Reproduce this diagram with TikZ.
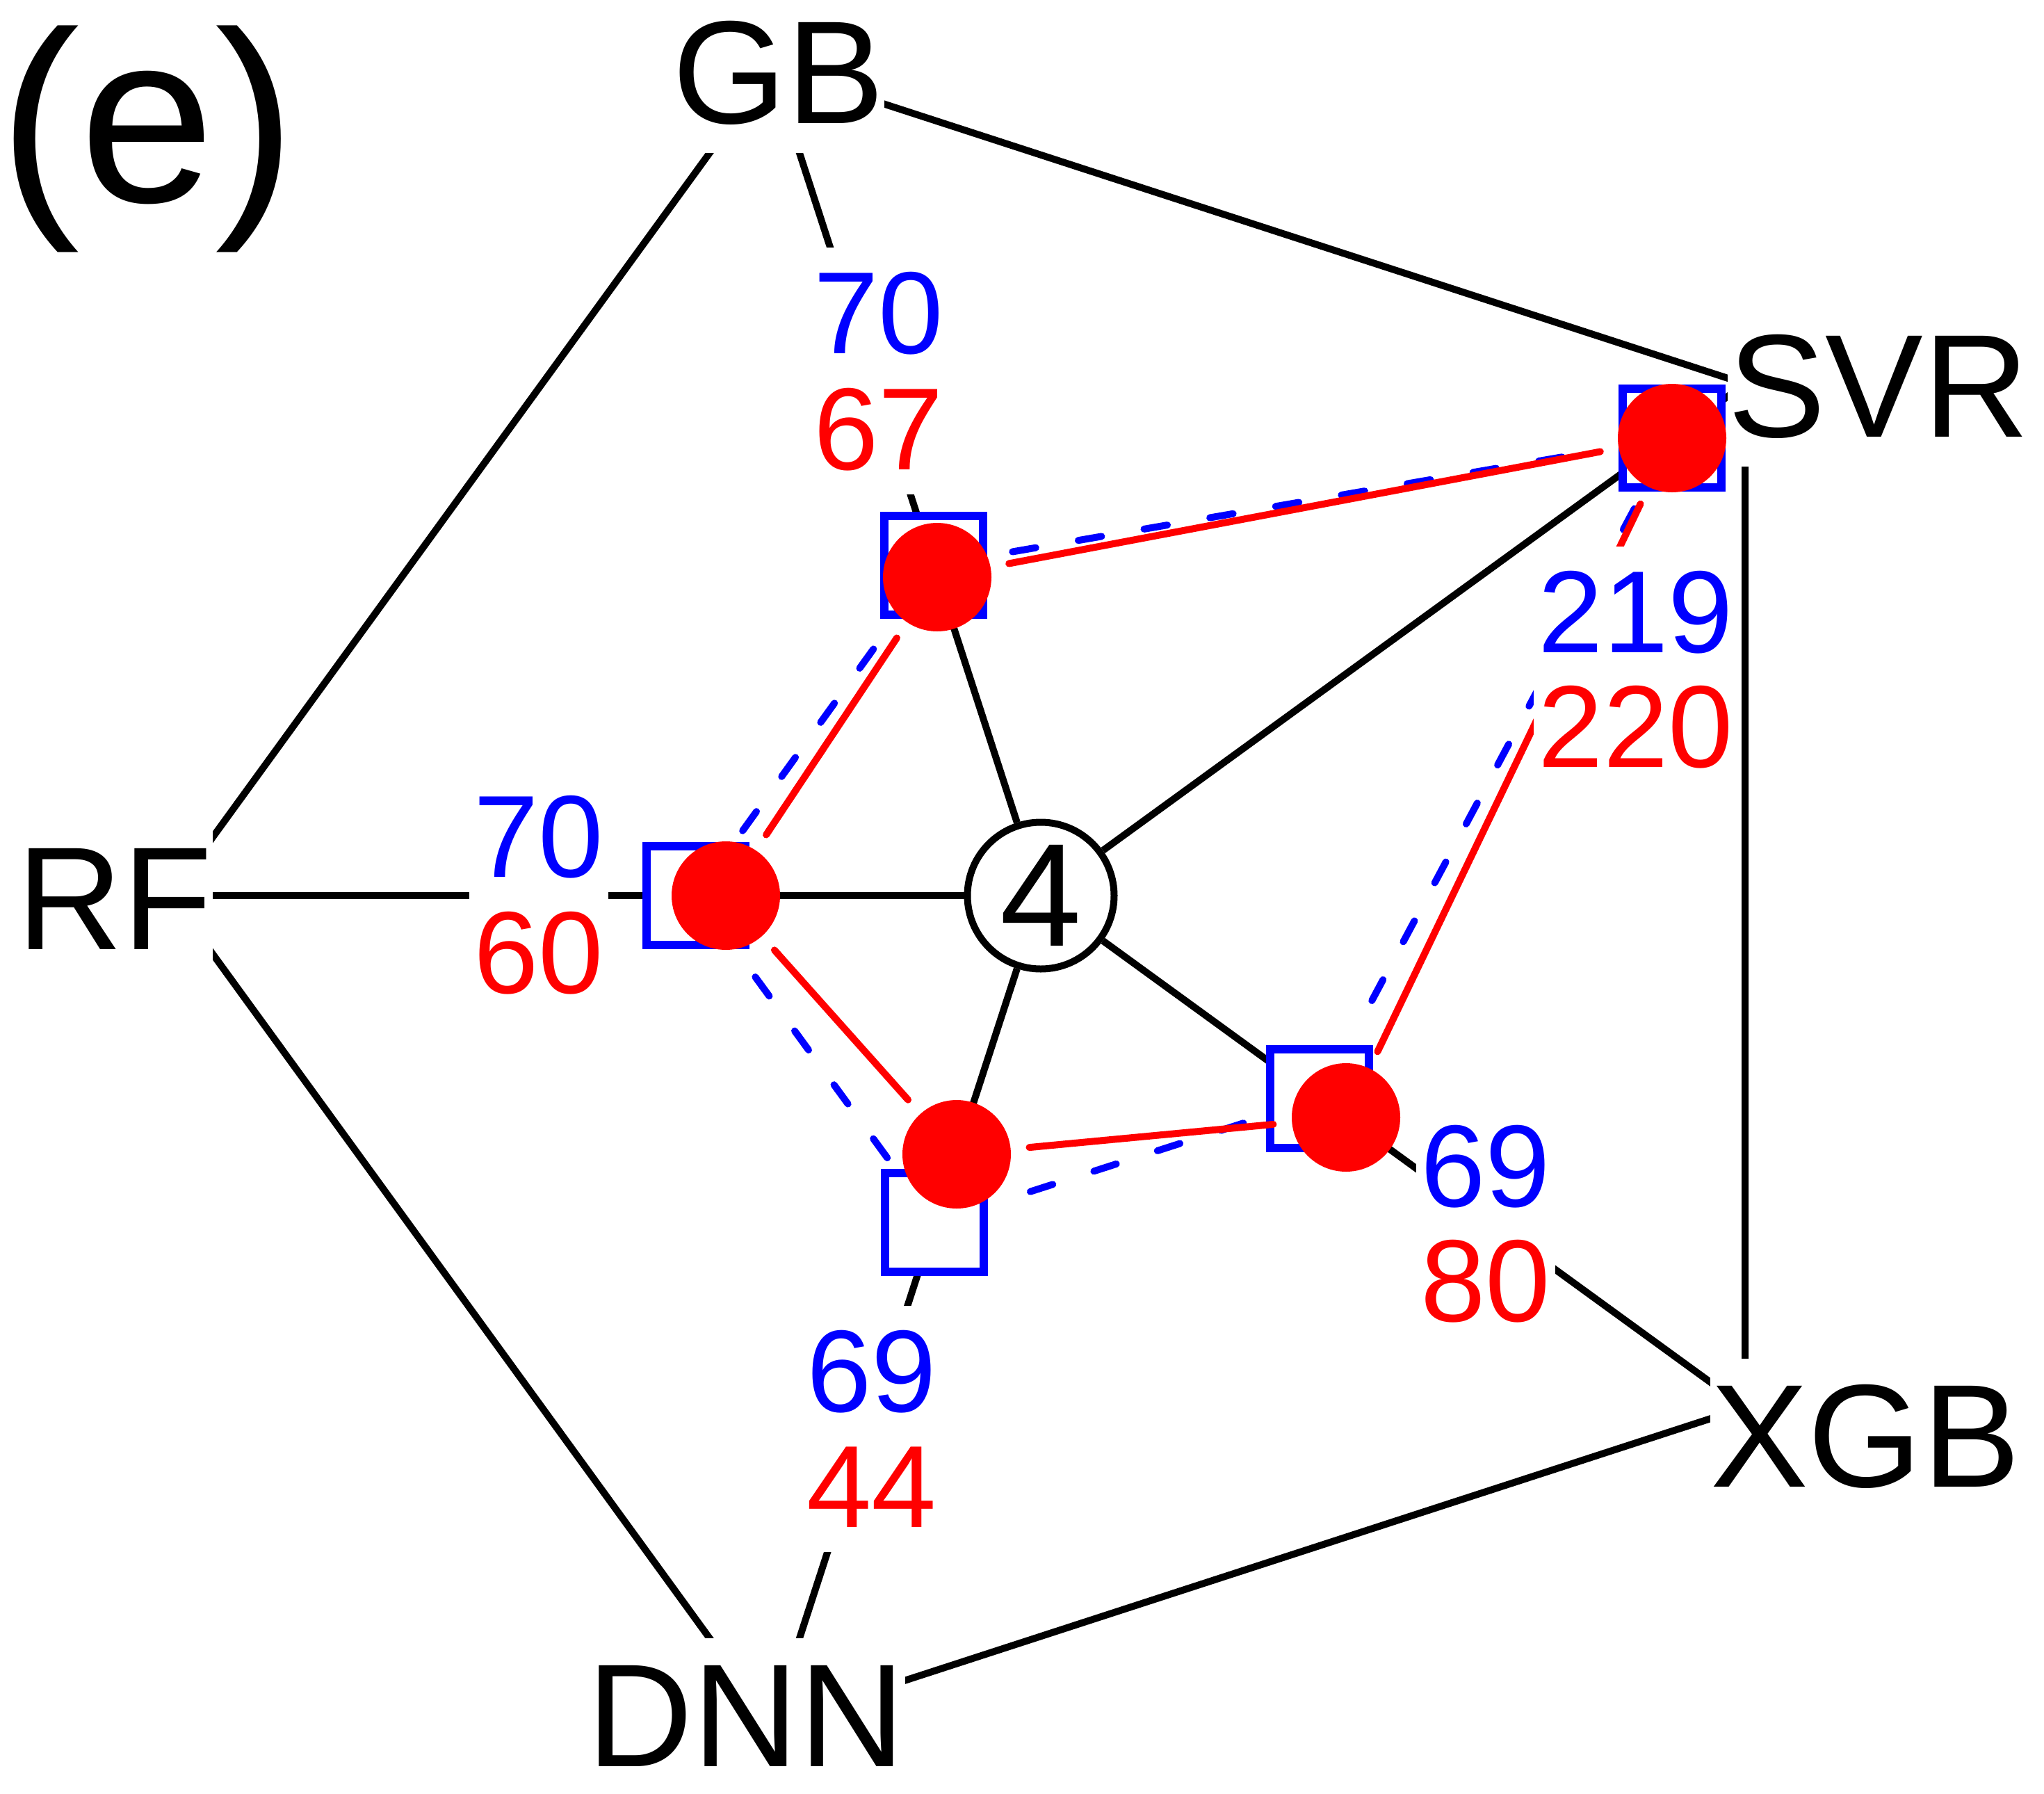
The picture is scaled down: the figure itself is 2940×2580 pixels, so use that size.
\documentclass[tikz,border=0pt]{standalone}
\usepackage{fontspec}
\setmainfont{Liberation Sans}
\pgfdeclarelayer{axes}
\pgfdeclarelayer{marks}
\pgfdeclarelayer{links}
\pgfsetlayers{axes,marks,links,main}
\begin{document}
\begin{tikzpicture}[x=1pt,y=-1pt,
  lab/.style={font=\fontsize{211}{211}\selectfont, fill=white, inner sep=0pt, text height=184pt, text depth=43pt},
  num/.style={font=\fontsize{168}{168}\selectfont, fill=white, inner ysep=0pt, inner xsep=7pt, text height=152pt, text depth=36pt, anchor=base},
  bnum/.style={num, text=blue},
  rnum/.style={num, text=red},
  axisline/.style={line width=10pt},
  bsq/.style={rectangle, draw=blue, fill=white, line width=12pt, minimum size=142pt, inner sep=0pt},
  rdot/.style={circle, fill=red, minimum size=156pt, inner sep=0pt},
  rlink/.style={red, line width=10pt, line cap=round, shorten <=105pt, shorten >=105pt},
  blink/.style={blue, line width=10pt, line cap=round, dash pattern=on 34pt off 62pt, shorten <=115pt, shorten >=115pt},
]
\useasboundingbox (0,0) rectangle (2940,2580);

% pentagon vertices
\coordinate (vRF)  at (245,1288);
\coordinate (vGB)  at (1110,97);
\coordinate (vSVR) at (2510,552);
\coordinate (vXGB) at (2510,2024);
\coordinate (vDNN) at (1110,2479);

% centre
\node[circle, draw, line width=10pt, fill=white, minimum size=211pt, inner sep=0pt] (ctr) at (1497,1288) {\fontsize{211}{211}\selectfont 4};

% outer labels
\node[lab, anchor=base] (GB) at (1120,177) {GB};
\node[lab, anchor=base west] (SVR) at (2485,628) {SVR};
\node[lab, anchor=base west] (XGB) at (2460,2138) {XGB};
\node[lab, anchor=base] (DNN) at (1073,2540) {DNN};
\node[lab, anchor=base east] (RF) at (306,1365) {RF};
\node[anchor=base west, font=\fontsize{350}{350}\selectfont, inner sep=0pt] (tag) at (-2,290) {(e)};

% number labels
\node[bnum] (nGBb) at (1264,508) {70};
\node[rnum] (nGBr) at (1264,675) {67};
\node[bnum] (nRFb) at (775,1261) {70};
\node[rnum] (nRFr) at (775,1428) {60};
\node[bnum] (nDNNb) at (1254,2030) {69};
\node[rnum] (nDNNr) at (1254,2196) {44};
\node[bnum] (nXGBb) at (2137,1735) {69};
\node[rnum] (nXGBr) at (2137,1900) {80};
\node[bnum] (nSVRb) at (2353,938) {219};
\node[rnum] (nSVRr) at (2353,1103) {220};

% markers
\begin{pgfonlayer}{marks}
\node[bsq] (bGB)  at (1343,813) {};
\node[bsq] (bRF)  at (1001,1288) {};
\node[bsq] (bDNN) at (1344,1758) {};
\node[bsq] (bXGB) at (1898,1580) {};
\node[bsq] (bSVR) at (2405,630) {};
\end{pgfonlayer}
\node[rdot] (rGB)  at (1348,830) {};
\node[rdot] (rRF)  at (1044,1288) {};
\node[rdot] (rDNN) at (1376,1660) {};
\node[rdot] (rXGB) at (1936,1607) {};
\node[rdot] (rSVR) at (2405,630) {};

% black axes and outer pentagon
\begin{pgfonlayer}{axes}
\draw[axisline] (ctr) -- (vGB);
\draw[axisline] (ctr) -- (vSVR);
\draw[axisline] (ctr) -- (vXGB);
\draw[axisline] (ctr) -- (vDNN);
\draw[axisline] (ctr) -- (vRF);
\draw[axisline] (vRF) -- (vGB) -- (vSVR) -- (vXGB) -- (vDNN) -- cycle;
\end{pgfonlayer}

% inner polygons
\begin{pgfonlayer}{links}
\draw[blink] (bGB.center) -- (bSVR.center);
\draw[blink] (bSVR.center) -- (bXGB.center);
\draw[blink] (bXGB.center) -- (bDNN.center);
\draw[blink] (bDNN.center) -- (bRF.center);
\draw[blink] (bRF.center) -- (bGB.center);
\draw[rlink] (rGB.center) -- (rSVR.center);
\draw[rlink] (rSVR.center) -- (rXGB.center);
\draw[rlink] (rXGB.center) -- (rDNN.center);
\draw[rlink] (rDNN.center) -- (rRF.center);
\draw[rlink] (rRF.center) -- (rGB.center);
\end{pgfonlayer}
\end{tikzpicture}
\end{document}
